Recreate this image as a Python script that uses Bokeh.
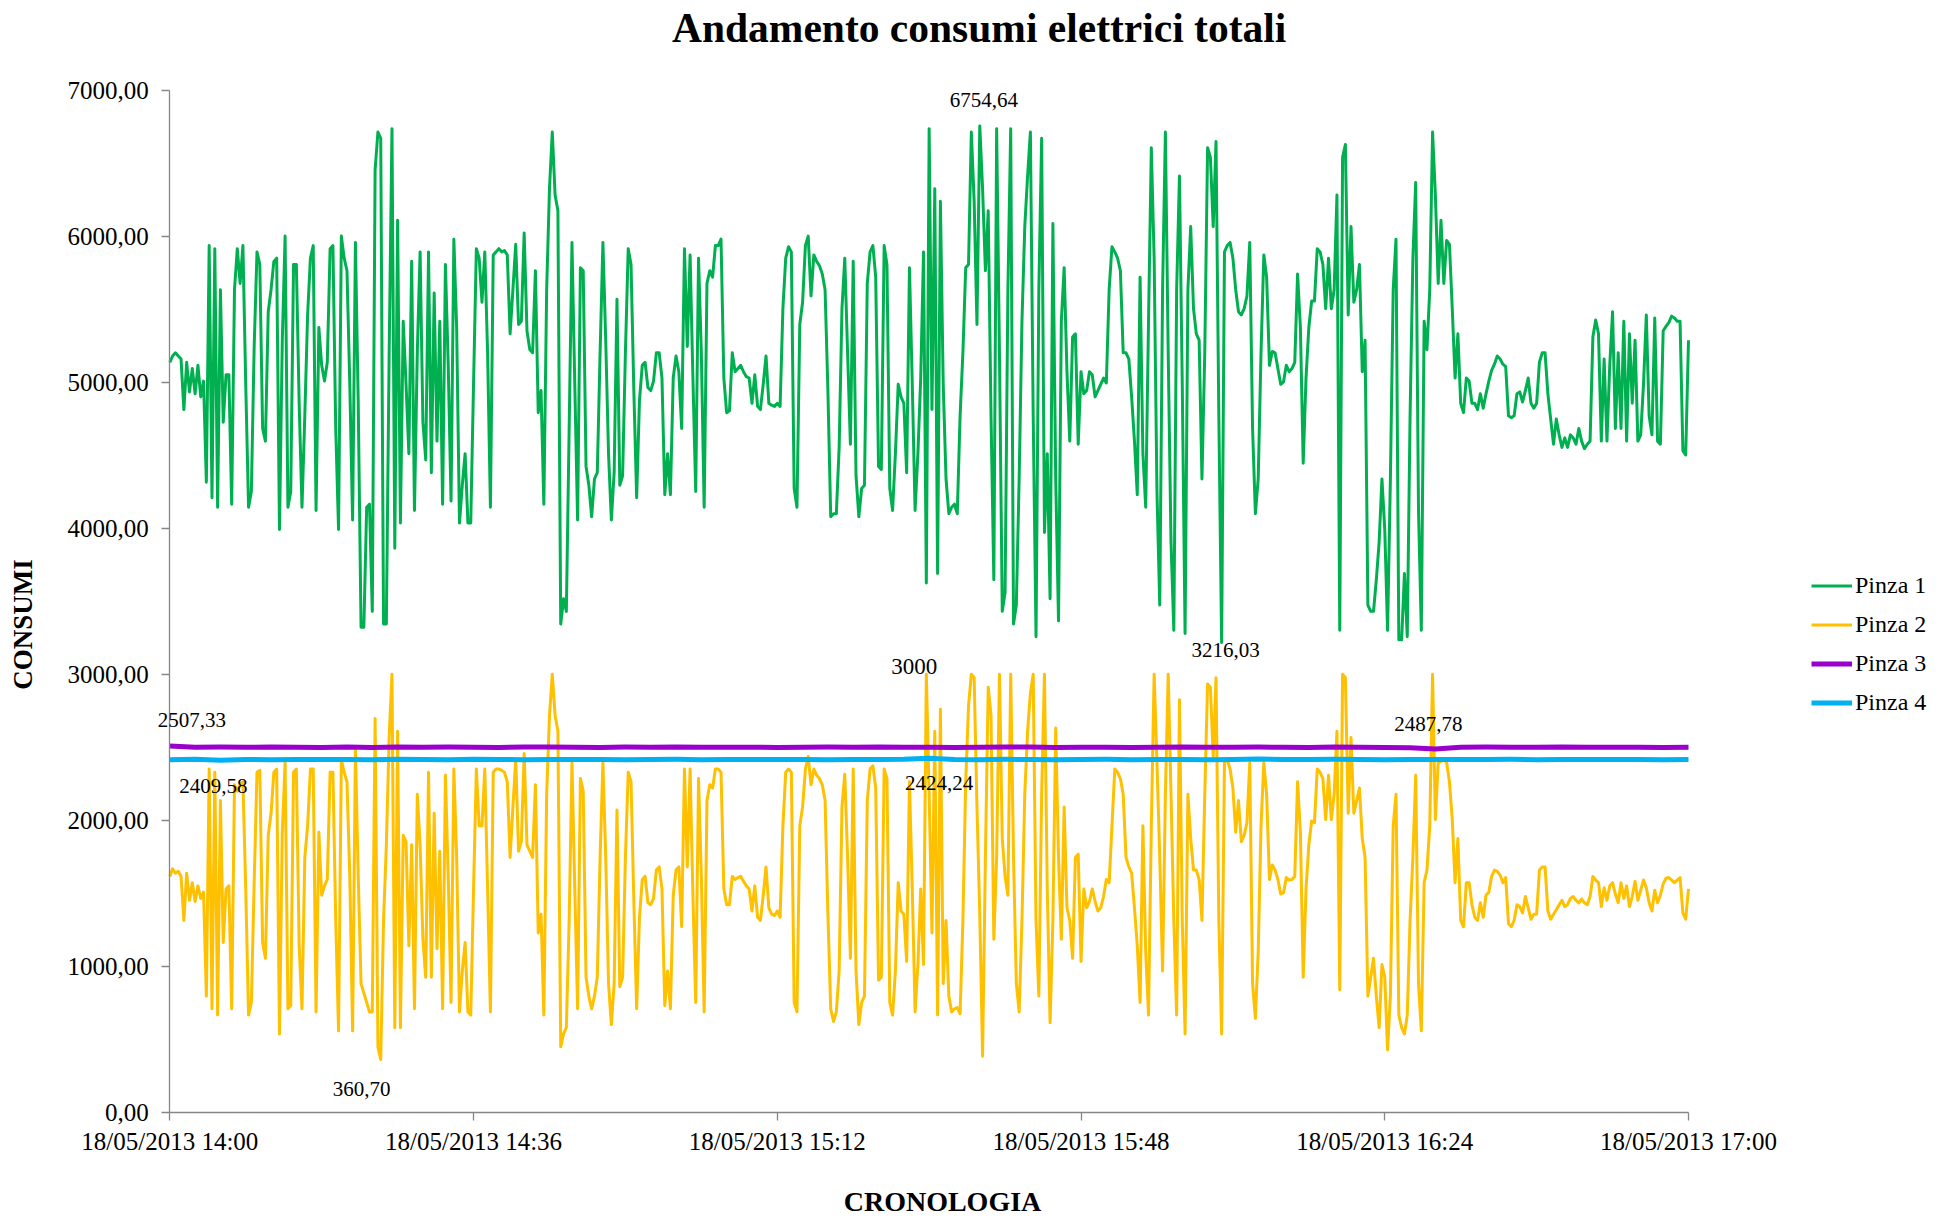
import pandas as pd
from bokeh.plotting import figure
from bokeh.models import Range1d, FixedTicker, DatetimeTickFormatter, Label, Legend, LegendItem
from bokeh.embed import file_html
from bokeh.resources import INLINE

title_text = "Andamento consumi elettrici totali"
x_title = "CRONOLOGIA"
y_title = "CONSUMI"
series_names = ["Pinza 1", "Pinza 2", "Pinza 3", "Pinza 4"]
start_time = "2013-05-18 14:00"
end_time = "2013-05-18 17:00"
x_tick_times = ["2013-05-18 14:00", "2013-05-18 14:36", "2013-05-18 15:12",
                "2013-05-18 15:48", "2013-05-18 16:24", "2013-05-18 17:00"]
y_tick_values = [0, 1000, 2000, 3000, 4000, 5000, 6000, 7000]
y_tick_labels = ["0,00", "1000,00", "2000,00", "3000,00", "4000,00", "5000,00", "6000,00", "7000,00"]
y_min, y_max = 0, 7000

# Pinza 1 / Pinza 2: one reading every 20 seconds
pinza1 = [
 5136, 5179, 5201, 5179, 5158, 4812, 5136, 4933, 5093, 4920,
 5115, 4899, 5007, 4315, 5935, 4208, 5914, 4143, 5633, 4726,
 5050, 5050, 4164, 5633, 5914, 5676, 5935, 4985, 4143, 4251,
 5244, 5892, 5806, 4683, 4596, 5482, 5633, 5827, 5849, 3991,
 5287, 6000, 4143, 4251, 5806, 5806, 4855, 4143, 4769, 5460,
 5849, 5935, 4121, 5374, 5115, 5007, 5136, 5914, 5935, 4683,
 3991, 6000, 5849, 5763, 4985, 4056, 5957, 4855, 3322, 3322,
 4143, 4164, 3430, 6454, 6713, 6670, 3343, 3343, 5201, 6735,
 3862, 6108, 4035, 5417, 4985, 4510, 5827, 4121, 5201, 5892,
 4726, 4467, 5892, 4380, 5611, 4596, 5417, 4164, 5806, 5115,
 4186, 5979, 5374, 4035, 4294, 4510, 4035, 4035, 4985, 5914,
 5849, 5547, 5892, 5201, 4143, 5871, 5892, 5914, 5892, 5901,
 5871, 5331, 5633, 5944, 5395, 5417, 6022, 5352, 5223, 5201,
 5763, 4791, 4942, 4164, 5633, 6324, 6713, 6281, 6173, 3343,
 3516, 3430, 4683, 5957, 4985, 4056, 5784, 5763, 4423, 4294,
 4078, 4337, 4380, 5201, 5957, 5287, 4510, 4056, 4380, 5568,
 4294, 4359, 5201, 5914, 5806, 4942, 4208, 4877, 5115, 5136,
 4963, 4942, 5007, 5201, 5201, 5028, 4229, 4510, 4229, 5028,
 5179, 5071, 4683, 5914, 5244, 5871, 5028, 4251, 5849, 5201,
 4143, 5676, 5763, 5719, 5935, 5935, 5979, 5028, 4791, 4804,
 5201, 5071, 5093, 5115, 5071, 5037, 5028, 4855, 5050, 4834,
 4812, 4985, 5179, 4855, 4842, 4834, 4855, 4834, 5503, 5849,
 5927, 5892, 4272, 4143, 5395, 5547, 5935, 6000, 5590, 5871,
 5827, 5797, 5741, 5633, 4942, 4078, 4099, 4099, 4553, 5503,
 5849, 5201, 4575, 5827, 4359, 4078, 4272, 4294, 5676, 5892,
 5935, 5719, 4423, 4402, 5935, 5806, 4272, 4121, 4510, 4985,
 4899, 4855, 4380, 5784, 4985, 4121, 4510, 5028, 5892, 3624,
 6735, 4812, 6324, 3689, 6238, 4985, 4337, 4099, 4143, 4164,
 4099, 4769, 5201, 5784, 5806, 6713, 6238, 5395, 6754.64, 6324,
 5763, 6173, 4769, 3646, 6735, 5201, 3430, 3559, 5633, 6735,
 3343, 3473, 4337, 5417, 6065, 6411, 6713, 4769, 3257, 5633,
 6670, 3970, 4510, 3516, 6087, 4337, 3365, 5417, 5784, 5071,
 4596, 5309, 5331, 4575, 5071, 4920, 4942, 5071, 5050, 4899,
 4942, 4985, 5028, 4994, 5633, 5927, 5892, 5849, 5763, 5201,
 5201, 5158, 4899, 4596, 4229, 5719, 4510, 4143, 5417, 6605,
 5849, 4251, 3473, 5633, 6713, 5201, 3905, 3300, 5633, 6411,
 4985, 3279, 5633, 6065, 5503, 5331, 5287, 4337, 5201, 6605,
 6540, 6065, 6648, 4769, 3216.03, 5892, 5935, 5957, 5849, 5633,
 5482, 5460, 5503, 5590, 5957, 4683, 4099, 4337, 5201, 5871,
 5719, 5115, 5210, 5201, 5093, 4985, 5002, 5115, 5071, 5093,
 5136, 5741, 5374, 4445, 5028, 5374, 5555, 5555, 5914, 5892,
 5806, 5503, 5849, 5503, 5633, 6281, 3300, 6540, 6627, 5460,
 6065, 5547, 5633, 5806, 5071, 5287, 3473, 3430, 3430, 3646,
 3905, 4337, 3991, 3300, 4337, 5633, 5979, 3235, 3235, 3689,
 3257, 4769, 5849, 6367, 4121, 3300, 5417, 5223, 5633, 6713,
 6281, 5676, 6108, 5676, 5970, 5944, 5503, 5028, 5331, 4855,
 4791, 5028, 5007, 4855, 4855, 4812, 4920, 4821, 4920, 5007,
 5080, 5123, 5179, 5158, 5123, 5106, 4769, 4756, 4769, 4920,
 4933, 4864, 4942, 5028, 4855, 4821, 4855, 5136, 5201, 5201,
 4920, 4747, 4575, 4747, 4639, 4553, 4618, 4553, 4639, 4618,
 4575, 4683, 4596, 4544, 4575, 4596, 5309, 5426, 5331, 4596,
 5158, 4596, 5115, 5482, 4683, 5201, 4683, 5417, 4596, 5331,
 4855, 5287, 4596, 4639, 4985, 5460, 4769, 4639, 5439, 4596,
 4575, 5352, 5382, 5408, 5452, 5439, 5417, 5417, 4531, 4501,
 5287,
]

pinza2 = [
 1615, 1667, 1637, 1650, 1615, 1313, 1637, 1451, 1572, 1443,
 1550, 1464, 1507, 795, 2350, 708, 2328, 665, 2134, 1162,
 1529, 1550, 708, 2242, 2199, 2242, 2263, 1529, 665, 752,
 1572, 2328, 2341, 1162, 1054, 1896, 2047, 2328, 2350, 536,
 1918, 2393, 708, 730, 2328, 2350, 1140, 708, 1745, 1961,
 2350, 2350, 687, 1918, 1486, 1550, 1594, 2328, 2328, 1313,
 557, 2415, 2328, 2263, 1615, 557, 2479, 1615, 881, 816,
 752, 687, 687, 2696, 449, 360.70, 1313, 1831, 2566, 3000,
 579, 2609, 579, 1896, 1853, 1140, 1831, 708, 2177, 1831,
 1184, 924, 2328, 924, 2047, 1119, 1788, 708, 2307, 1615,
 752, 2350, 1745, 687, 967, 1162, 687, 665, 1529, 2350,
 1961, 1961, 2350, 1529, 687, 2328, 2350, 2350, 2341, 2328,
 2263, 1745, 2091, 2415, 1788, 1853, 2457, 1831, 1788, 1745,
 2242, 1227, 1356, 665, 2177, 2717, 3000, 2717, 2609, 449,
 536, 579, 1313, 2393, 1529, 708, 2285, 2199, 924, 795,
 708, 795, 924, 1745, 2393, 1745, 881, 600, 881, 2069,
 859, 924, 1745, 2328, 2263, 1443, 708, 1335, 1594, 1615,
 1434, 1421, 1464, 1658, 1680, 1529, 730, 967, 708, 1486,
 1658, 1680, 1270, 2350, 1680, 2350, 1486, 752, 2285, 1615,
 687, 2134, 2242, 2220, 2350, 2350, 2328, 1529, 1421, 1421,
 1615, 1594, 1607, 1615, 1581, 1550, 1529, 1378, 1550, 1335,
 1313, 1486, 1680, 1400, 1356, 1347, 1378, 1335, 1961, 2328,
 2350, 2328, 752, 687, 1961, 2091, 2350, 2436, 2242, 2350,
 2307, 2285, 2242, 2134, 1356, 708, 622, 687, 967, 2091,
 2315, 1745, 1054, 2350, 967, 600, 752, 795, 2134, 2350,
 2372, 2220, 903, 924, 2350, 2285, 752, 665, 967, 1572,
 1378, 1356, 1032, 2263, 1529, 687, 1011, 1529, 1011, 3000,
 2177, 1227, 2609, 665, 2760, 881, 1313, 795, 687, 708,
 717, 674, 1313, 2263, 2782, 3000, 2976, 2091, 1356, 384,
 1745, 2911, 2717, 1184, 1745, 3000, 1874, 1615, 1486, 3000,
 1745, 881, 687, 1313, 2177, 2609, 2868, 3000, 1313, 795,
 2177, 3000, 1529, 613, 1313, 2631, 1745, 1184, 2091, 1400,
 1313, 1054, 1745, 1767, 1032, 1529, 1400, 1443, 1529, 1443,
 1378, 1400, 1477, 1594, 1572, 1961, 2350, 2328, 2285, 2177,
 1745, 1680, 1637, 1400, 1140, 752, 1961, 1097, 665, 1961,
 3000, 2393, 1745, 967, 2177, 3000, 2177, 1313, 665, 2825,
 1313, 536, 2177, 1874, 1658, 1658, 1594, 1313, 2177, 2933,
 2911, 2436, 2976, 1313, 536, 2393, 2415, 2350, 2220, 1918,
 2134, 1853, 1896, 1983, 2393, 881, 643, 1097, 1961, 2393,
 2177, 1594, 1693, 1658, 1594, 1494, 1503, 1607, 1590, 1594,
 1615, 2263, 1918, 924, 1529, 1831, 1995, 1983, 2350, 2328,
 2285, 2004, 2307, 2004, 2177, 2609, 838, 3000, 2976, 2047,
 2566, 2047, 2134, 2220, 1874, 1745, 795, 924, 1054, 795,
 579, 1011, 924, 427, 795, 1961, 2177, 665, 579, 536,
 665, 1313, 1745, 2307, 881, 557, 1572, 1658, 1961, 3000,
 2004, 2393, 2402, 2415, 2393, 2263, 2004, 1572, 1874, 1313,
 1270, 1572, 1572, 1421, 1335, 1313, 1434, 1335, 1486, 1507,
 1615, 1658, 1650, 1624, 1572, 1607, 1291, 1270, 1313, 1421,
 1408, 1365, 1477, 1400, 1322, 1356, 1356, 1658, 1680, 1680,
 1378, 1322, 1356, 1387, 1421, 1451, 1408, 1421, 1464, 1477,
 1451, 1434, 1460, 1434, 1421, 1477, 1615, 1590, 1572, 1408,
 1537, 1451, 1550, 1572, 1494, 1434, 1572, 1464, 1550, 1408,
 1477, 1581, 1451, 1520, 1590, 1537, 1434, 1378, 1520, 1434,
 1486, 1564, 1602, 1607, 1590, 1572, 1590, 1607, 1365, 1322,
 1529,
]

# Pinza 3 / Pinza 4: one reading every 3 minutes
pinza3 = [2507.33, 2499.1, 2500.4, 2498.7, 2501.2, 2499.8, 2497.6, 2500.9, 2498.3, 2501.5,
          2499.2, 2500.6, 2498.9, 2497.8, 2500.3, 2501.1, 2499.5, 2498.4, 2500.8, 2499.7,
          2501.3, 2498.6, 2499.9, 2500.2, 2497.9, 2499.4, 2500.7, 2498.8, 2501.0, 2499.3,
          2500.1, 2498.5, 2499.6, 2500.5, 2501.4, 2498.2, 2499.0, 2500.0, 2498.1, 2499.8,
          2501.6, 2499.4, 2498.7, 2500.3, 2499.1, 2497.5, 2500.9, 2499.6, 2498.4, 2496.8,
          2487.78, 2499.2, 2500.4, 2498.9, 2499.7, 2501.2, 2498.6, 2500.1, 2499.3, 2498.0,
          2499.5]
pinza4 = [2414.2, 2416.8, 2409.58, 2415.3, 2413.9, 2416.1, 2414.7, 2415.8, 2413.5, 2416.4,
          2415.0, 2414.3, 2416.9, 2415.6, 2413.8, 2414.9, 2416.2, 2415.4, 2414.1, 2415.7,
          2416.5, 2413.6, 2415.2, 2414.8, 2416.0, 2415.5, 2414.4, 2416.3, 2415.1, 2417.2,
          2424.24, 2415.9, 2414.6, 2416.7, 2415.3, 2413.7, 2415.8, 2416.4, 2414.5, 2415.0,
          2416.1, 2414.2, 2415.6, 2418.3, 2415.4, 2414.9, 2416.6, 2415.2, 2413.9, 2415.7,
          2416.0, 2414.7, 2415.5, 2416.8, 2414.3, 2415.1, 2416.2, 2414.8, 2415.9, 2414.6,
          2415.3]

# data labels: series, point index, text
label_points = [("Pinza 1", 288, "6754,64"), ("Pinza 1", 374, "3216,03"),
                ("Pinza 2", 269, "3000"), ("Pinza 2", 75, "360,70"),
                ("Pinza 3", 0, "2507,33"), ("Pinza 3", 50, "2487,78"),
                ("Pinza 4", 2, "2409,58"), ("Pinza 4", 30, "2424,24")]

# ---------------- layout / style (pixels) ----------------
W, H = 1952, 1221
PLOT_L, PLOT_R, PLOT_T, PLOT_B = 169.3, 1688.0, 89.6, 1111.7
label_offsets = [(4, 26), (4, -7), (-12, 8), (-19, -29), (22, 26), (-7, 25), (-7, -26), (10, -25)]
label_sizes = ["21px", "21px", "23px", "21px", "21px", "21px", "21px", "21px"]
FONT = "Liberation Serif"


def ms(ts):
    return pd.Timestamp(ts).value / 1e6


x0, x1 = ms(start_time), ms(end_time)
px_per_ms = (PLOT_R - PLOT_L) / (x1 - x0)
px_per_unit = (PLOT_B - PLOT_T) / (y_max - y_min)
# whole canvas is the frame; axes sit at fixed locations inside it
x_range = Range1d(x0 - PLOT_L / px_per_ms, x1 + (W - PLOT_R) / px_per_ms)
y_range = Range1d(y_min - (H - PLOT_B) / px_per_unit, y_max + PLOT_T / px_per_unit)

t12 = pd.date_range(start_time, periods=len(pinza1), freq="20s")
t34 = pd.date_range(start_time, periods=len(pinza3), freq="3min")

p = figure(width=W, height=H, x_axis_type="datetime",
           output_backend="svg", toolbar_location=None,
           x_range=x_range, y_range=y_range,
           min_border=0, min_border_left=0, min_border_right=0,
           min_border_top=0, min_border_bottom=0)
p.xgrid.visible = False
p.ygrid.visible = False
p.outline_line_color = None
p.background_fill_color = "white"
p.border_fill_color = "white"

styles = {
    "Pinza 1": dict(color="#00B050", width=3),
    "Pinza 2": dict(color="#FFC000", width=3),
    "Pinza 3": dict(color="#9900CC", width=5),
    "Pinza 4": dict(color="#00B0F0", width=5),
}
data = {"Pinza 1": (t12, pinza1), "Pinza 2": (t12, pinza2),
        "Pinza 3": (t34, pinza3), "Pinza 4": (t34, pinza4)}

renderers = {}
for name in series_names:
    xs, ys = data[name]
    st = styles[name]
    renderers[name] = p.line(x=xs, y=ys, line_color=st["color"], line_width=st["width"],
                             line_join="round")

# axes
for ax in (p.xaxis[0], p.yaxis[0]):
    ax.axis_line_color = "#868686"
    ax.axis_line_width = 1.3
    ax.major_tick_line_color = "#868686"
    ax.major_tick_line_width = 1.3
    ax.major_tick_out = 8
    ax.major_tick_in = 0
    ax.minor_tick_line_color = None
    ax.major_label_text_font = FONT
    ax.major_label_text_font_size = "25px"
    ax.major_label_text_color = "black"

p.xaxis.fixed_location = y_min
p.xaxis.bounds = (x0, x1)
p.xaxis.ticker = FixedTicker(ticks=[ms(t) for t in x_tick_times])
fmt = "%d/%m/%Y %H:%M"
p.xaxis.formatter = DatetimeTickFormatter(minutes=fmt, hourmin=fmt, hours=fmt, days=fmt,
                                          minsec=fmt, seconds=fmt, months=fmt, years=fmt)
p.xaxis.major_label_standoff = 8

p.yaxis.fixed_location = x0
p.yaxis.bounds = (y_min, y_max)
p.yaxis.ticker = FixedTicker(ticks=y_tick_values)
p.yaxis.major_label_overrides = {v: lab for v, lab in zip(y_tick_values, y_tick_labels)}
p.yaxis.major_label_standoff = 13

# titles (screen units, from the bottom-left of the canvas)
p.add_layout(Label(x=978.6, y=H - 27, x_units="screen", y_units="screen", text=title_text,
                   text_align="center", text_baseline="middle", text_font=FONT,
                   text_font_style="bold", text_font_size="41.5px", text_color="black"))
p.add_layout(Label(x=942, y=H - 1201, x_units="screen", y_units="screen", text=x_title,
                   text_align="center", text_baseline="middle", text_font=FONT,
                   text_font_style="bold", text_font_size="28px", text_color="black"))
p.add_layout(Label(x=22.4, y=H - 624, x_units="screen", y_units="screen", text=y_title,
                   angle=1.5708, text_align="center", text_baseline="middle", text_font=FONT,
                   text_font_style="bold", text_font_size="27px", text_color="black"))

# data labels
for (name, idx, txt), (dx, dy), fs in zip(label_points, label_offsets, label_sizes):
    xs, ys = data[name]
    p.add_layout(Label(x=xs[idx].value / 1e6, y=ys[idx], text=txt, x_offset=dx, y_offset=dy,
                       text_align="center", text_baseline="middle", text_font=FONT,
                       text_font_size=fs, text_color="black"))

legend = Legend(items=[LegendItem(label=n, renderers=[renderers[n]]) for n in series_names],
                location=(1811, H - 721.5), orientation="vertical",
                glyph_width=41, glyph_height=39, label_height=39, label_standoff=3,
                spacing=0, padding=0, margin=0,
                label_text_font=FONT, label_text_font_size="24px", label_text_color="black",
                border_line_color=None, background_fill_alpha=0)
p.add_layout(legend)

open("out.html", "w").write(file_html(p, INLINE))
